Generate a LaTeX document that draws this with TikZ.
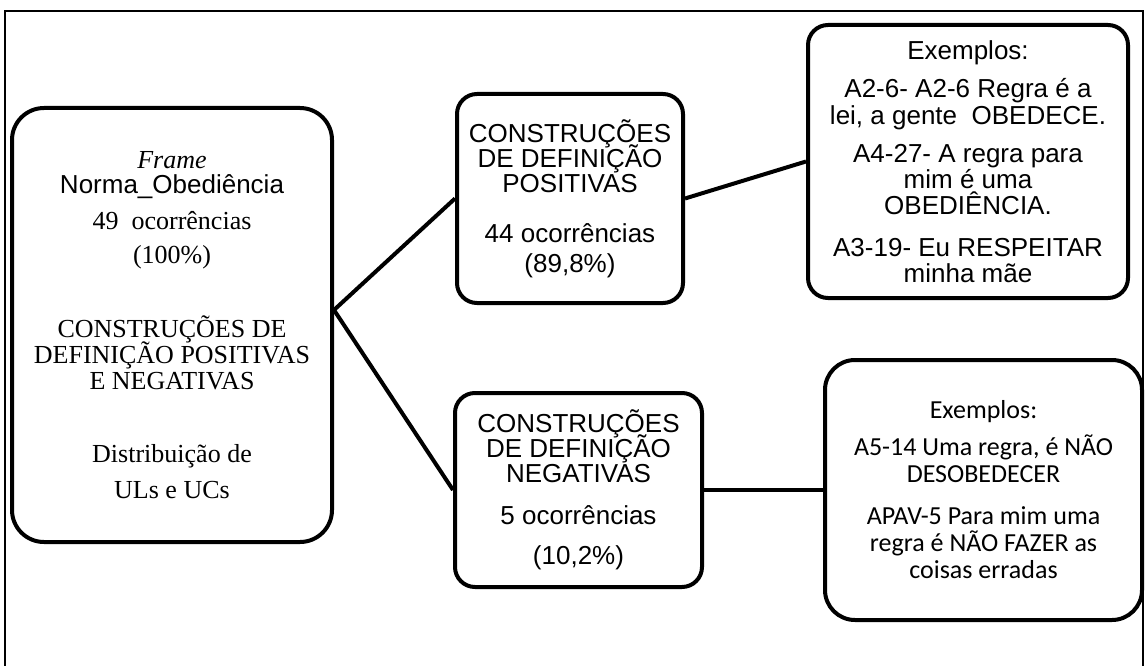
\documentclass[tikz,border=0pt]{standalone}
\usepackage{fontspec}
\setmainfont{Liberation Serif}
\newfontfamily\arialf{Liberation Sans}
\newfontfamily\calib{Carlito}
\newcommand\tightlines{\lineskiplimit=-\maxdimen\relax}
\begin{document}
\begin{tikzpicture}[x=1pt,y=-1pt,
  box/.style={draw, line width=4pt, rounded corners=#1, inner sep=0pt, align=center},
  box/.default=20pt,
  conn/.style={line width=4pt},
  tfont/.style={font={#1\fontsize{26}{0}\selectfont\tightlines}},
  tfont/.default={}]
\useasboundingbox (0,0) rectangle (1146,666);
\draw[line width=2.5pt] (5,666) -- (5,11) -- (1143,11) -- (1143,666);
% left box
\node[box=32pt, tfont, minimum width=320pt, minimum height=434pt] (L) at (172,325)
  {{\itshape Frame}\\[25pt]{\arialf Norma\_Obediência}\\[36pt]49\ \ ocorrências\\[34pt](100\%)\\[74pt]
   CONSTRUÇÕES DE\\[26pt]DEFINIÇÃO POSITIVAS\\[26pt]E NEGATIVAS\\[73pt]Distribuição de\\[36pt]ULs e UCs};
% middle boxes
\node[box=20pt, tfont=\arialf, minimum width=226pt, minimum height=209pt] (P) at (570,198.5)
  {CONSTRUÇÕES\\[25pt]DE DEFINIÇÃO\\[25pt]POSITIVAS\\[50pt]44 ocorrências\\[30pt](89,8\%)};
\node[box=20pt, tfont=\arialf, minimum width=247pt, minimum height=194pt] (N) at (578.5,490)
  {CONSTRUÇÕES\\[25pt]DE DEFINIÇÃO\\[25pt]NEGATIVAS\\[42pt]5 ocorrências\\[40pt](10,2\%)};
% right boxes
\node[box=20pt, tfont=\arialf, minimum width=320pt, minimum height=273pt] (EP) at (968,161.5)
  {Exemplos:\\[38pt]A2-6- A2-6 Regra é a\\[27pt]lei, a gente\ \ OBEDECE.\\[38pt]A4-27- A regra para\\[26pt]mim é uma\\[26pt]OBEDIÊNCIA.\\[42pt]A3-19- Eu RESPEITAR\\[26pt]minha mãe};
\node[box=30pt, font={\calib\fontsize{26}{0}\selectfont\tightlines}, minimum width=317pt, minimum height=260pt] (EN) at (983.5,490)
  {Exemplos:\\[37pt]A5-14 Uma regra, é NÃO\\[27pt]DESOBEDECER\\[42pt]APAV-5 Para mim uma\\[27pt]regra é NÃO FAZER as\\[27pt]coisas erradas};
% connectors
\coordinate (J) at ([yshift=15pt]L.east);
\draw[conn] (J) -- (P.west);
\draw[conn] (J) -- (N.west);
\draw[conn] (P.east) -- (EP.west);
\draw[conn] (N.east) -- (EN.west);
\end{tikzpicture}
\end{document}
